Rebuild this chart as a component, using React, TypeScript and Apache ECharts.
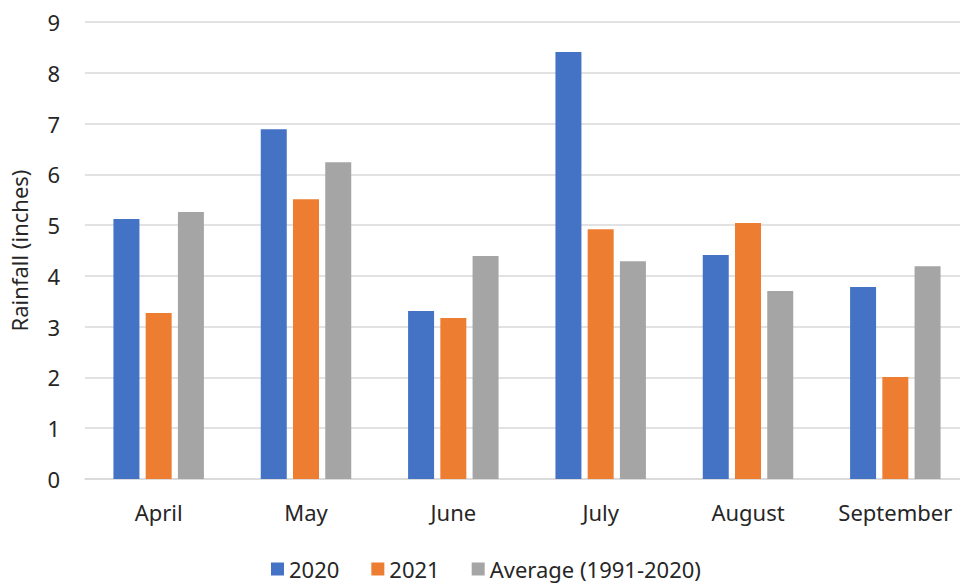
import React, { useEffect, useRef } from "react";
import * as echarts from "echarts";

const months = ["April", "May", "June", "July", "August", "September"];
const rain2020 = [5.12, 6.89, 3.31, 8.41, 4.41, 3.78];
const rain2021 = [3.27, 5.51, 3.17, 4.92, 5.04, 2.01];
const rainAvg = [5.26, 6.24, 4.39, 4.29, 3.7, 4.19];
const seriesNames = ["2020", "2021", "Average (1991-2020)"];
const colors = ["#4472C4", "#ED7D31", "#A5A5A5"];

export default function App() {
  const ref = useRef<HTMLDivElement>(null);
  useEffect(() => {
    if (!ref.current) return;
    const chart = echarts.init(ref.current, undefined, { renderer: "svg" });
    const font = "Noto Sans";
    const textColor = "#262626";
    const fs = 22;
    const datas = [rain2020, rain2021, rainAvg];
    chart.setOption({
      animation: false,
      color: colors,
      textStyle: { fontFamily: font },
      grid: { left: 82, top: 22, width: 887, bottom: 104, containLabel: false },
      legend: {
        data: seriesNames,
        top: 553,
        left: 266,
        itemWidth: 13,
        itemHeight: 13,
        itemGap: 32,
        icon: "rect",
        textStyle: { fontSize: fs, color: textColor, fontFamily: font },
      },
      xAxis: {
        type: "category",
        data: months,
        axisLine: { show: true, lineStyle: { color: "#d9d9d9", width: 1.5 } },
        axisTick: { show: false },
        axisLabel: { fontSize: fs, color: textColor, margin: 22, fontFamily: font, interval: 0 },
      },
      yAxis: {
        type: "value",
        min: 0,
        max: 9,
        interval: 1,
        name: "Rainfall (inches)",
        nameLocation: "middle",
        nameGap: 55,
        nameTextStyle: { fontSize: fs, color: textColor, fontFamily: font },
        axisLine: { show: false },
        axisTick: { show: false },
        axisLabel: { fontSize: fs, color: textColor, margin: 25, fontFamily: font },
        splitLine: { lineStyle: { color: "#d9d9d9", width: 1.5 } },
      },
      series: seriesNames.map((name, i) => ({
        name,
        type: "bar",
        data: datas[i],
        barWidth: 26,
        barGap: "24%",
        itemStyle: { color: colors[i] },
      })),
    });
    return () => chart.dispose();
  }, []);
  return (
    <div
      style={{ position: "absolute", left: 0, top: 0, width: 960, height: 583, overflow: "hidden", background: "#fff" }}
    >
      <div ref={ref} style={{ width: 969, height: 583 }} />
    </div>
  );
}
